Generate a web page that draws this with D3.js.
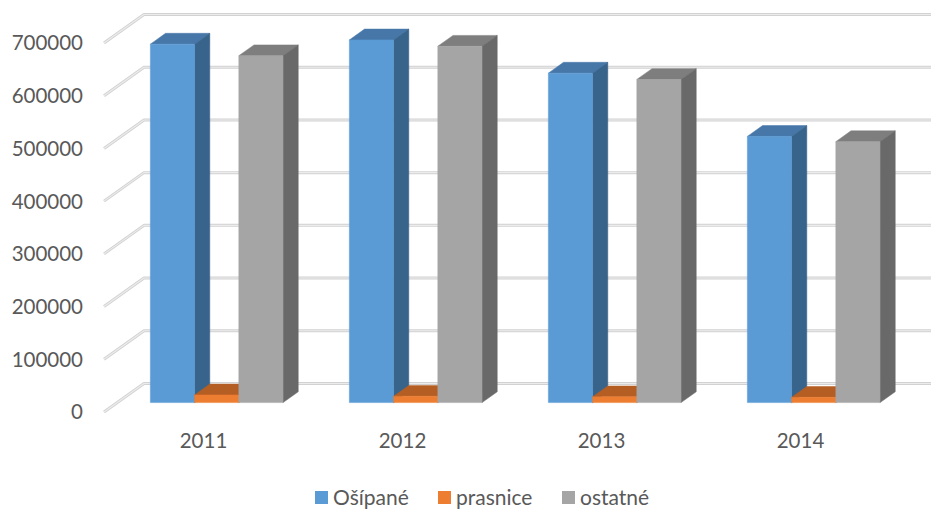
<!DOCTYPE html>
<html><head><meta charset="utf-8">
<script src="https://cdn.jsdelivr.net/npm/d3@7"></script>
<style>html,body{margin:0;padding:0;background:#fff;overflow:hidden}svg{display:block}</style>
</head><body>
<svg id="c" width="931" height="516"></svg>
<script>
const categories = ["2011", "2012", "2013", "2014"];
const seriesNames = ["Ošípané", "prasnice", "ostatné"];
const osipane = [680000, 688000, 625000, 505000];
const prasnice = [14500, 12000, 11000, 10000];
const ostatne = [658000, 676000, 613000, 495000];
const yTicks = [0, 100000, 200000, 300000, 400000, 500000, 600000, 700000];

const seriesValues = [osipane, prasnice, ostatne];
const colors = [
  {front: "#5B9BD5", top: "#4777A8", side: "#38638A"},
  {front: "#ED7D31", top: "#B45E24", side: "#9A501E"},
  {front: "#A5A5A5", top: "#7E7E7E", side: "#696969"}
];

const svg = d3.select("#c");
const DX = 40, DY = 28.5;            // full depth offset
const Z0 = 0.33, Z1 = 0.71;          // bar depth range
const x = d3.scaleBand().domain(categories).range([104, 104 + 4 * 199]).paddingInner(0).paddingOuter(0);
const y = d3.scaleLinear().domain([0, 700000]).range([412, 43]);
const bw = x.bandwidth() / 4.5;
const xs = d3.scaleBand().domain(seriesNames).range([0.75 * bw, 3.75 * bw]);
const P = (px, v, z) => [px + z * DX, y(v) - z * DY];

// gridlines: back wall + left side diagonals
const grid = svg.append("g");
yTicks.forEach(t => {
  const a = P(x.range()[0], t, 0), b = P(x.range()[0], t, 1), c = [960, b[1]];
  const d = `M${a[0]},${a[1]}L${b[0]},${b[1]}L${c[0]},${c[1]}`;
  grid.append("path").attr("d", d).attr("fill", "none").attr("stroke", "#d2d2d2").attr("stroke-width", 3).attr("stroke-linejoin", "round");
  grid.append("path").attr("d", d).attr("fill", "none").attr("stroke", "#ececec").attr("stroke-width", 1.1).attr("stroke-linejoin", "round");
});

// y tick labels
svg.append("g").selectAll("text").data(yTicks).join("text")
  .attr("x", 83).attr("y", d => y(d)).attr("dy", "0.36em")
  .attr("text-anchor", "end").attr("fill", "#595959")
  .style("font-family", "Lato, 'Open Sans', sans-serif").style("font-size", "20.5px")
  .text(d => d);

// bars
const bars = svg.append("g");
categories.forEach((cat, ci) => {
  seriesNames.forEach((s, si) => {
    const v = seriesValues[si][ci];
    const xl = x(cat) + xs(s), xr = xl + xs.bandwidth();
    const col = colors[si];
    const f0 = P(xl, 0, Z0), f1 = P(xr, 0, Z0), f2 = P(xr, v, Z0), f3 = P(xl, v, Z0);
    const b1 = P(xr, 0, Z1), b2 = P(xr, v, Z1), b3 = P(xl, v, Z1);
    const poly = pts => "M" + pts.map(p => p.join(",")).join("L") + "Z";
    bars.append("path").attr("d", poly([f3, f2, b2, b3])).attr("fill", col.top)
      .attr("stroke", col.top).attr("stroke-width", 0.5);
    bars.append("path").attr("d", poly([f1, b1, b2, f2])).attr("fill", col.side)
      .attr("stroke", col.side).attr("stroke-width", 0.5);
    bars.append("path").attr("d", poly([f0, f1, f2, f3])).attr("fill", col.front)
      .attr("stroke", col.front).attr("stroke-width", 0.5);
  });
});

// category labels
svg.append("g").selectAll("text").data(categories).join("text")
  .attr("x", d => x(d) + x.bandwidth() / 2).attr("y", 441).attr("dy", "0.36em")
  .attr("text-anchor", "middle").attr("fill", "#595959")
  .style("font-family", "Lato, 'Open Sans', sans-serif").style("font-size", "20.5px")
  .text(d => d);

// legend
const legX = [315, 438, 562];
const leg = svg.append("g");
seriesNames.forEach((s, i) => {
  leg.append("rect").attr("x", legX[i]).attr("y", 491).attr("width", 13).attr("height", 13).attr("fill", colors[i].front);
  leg.append("text").attr("x", legX[i] + 18).attr("y", 497.5).attr("dy", "0.36em")
    .attr("fill", "#595959").style("font-family", "Lato, 'Open Sans', sans-serif").style("font-size", "21px")
    .text(s);
});
</script>
</body></html>
